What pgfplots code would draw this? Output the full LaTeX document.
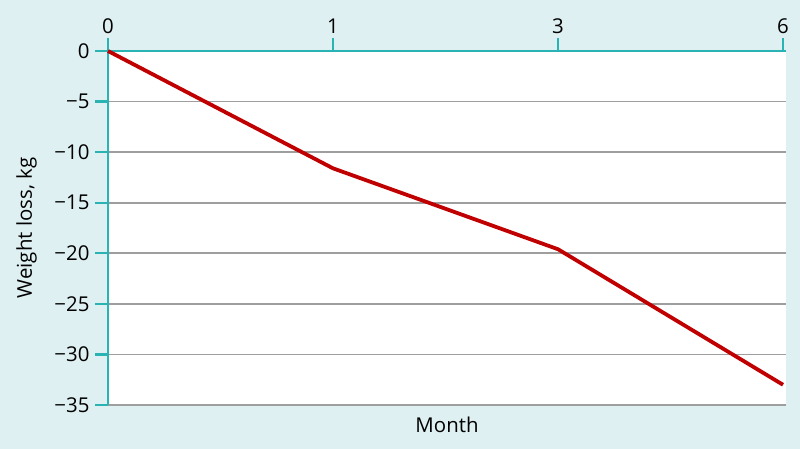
\documentclass[border=0pt]{standalone}
\usepackage{fontspec}
\setmainfont{Open Sans}
\usepackage{pgfplots}
\pgfplotsset{compat=1.18}
\definecolor{bgc}{HTML}{DFF0F3}
\definecolor{teal2}{HTML}{2AB3B3}
\definecolor{gridc}{HTML}{9E9E9E}
\definecolor{redc}{HTML}{C00000}
\begin{document}
\begin{tikzpicture}[x=1bp,y=1bp]
\fill[bgc] (-108,-44) rectangle (692,405);
\begin{axis}[
  at={(0,0)}, anchor=south west,
  scale only axis, width=678bp, height=354bp,
  xmin=0, xmax=3.0133, ymin=-35, ymax=0,
  axis x line*=top, axis y line*=left,
  axis line style={teal2, line width=2.2bp, -},
  tick align=outside,
  major tick length=13bp,
  tick style={teal2, line width=2.2bp},
  xtick={0,1,2,3}, xticklabels={0,1,3,6},
  ytick={-35,-30,...,0},
  yticklabels={−35,−30,−25,−20,−15,−10,−5,0},
  ymajorgrids, grid style={gridc, line width=1.8bp},
  axis background/.style={fill=white},
  tick label style={font=\fontsize{20.5}{24}\selectfont, black},
  label style={font=\fontsize{20.5}{24}\selectfont, black},
  ylabel={Weight loss, kg},
  xlabel={Month},
  xlabel style={at={(axis description cs:0.5,0)}, anchor=center, yshift=-20bp},
  ylabel style={at={(axis description cs:-0.1202,0.5)}, anchor=center},
  yticklabel style={xshift=-2bp},
  xticklabel style={yshift=1bp},
  clip=false,
]
\addplot[redc, line width=3.8bp] coordinates {(0,0) (1,-11.6) (2,-19.6) (3,-33.0)};
\end{axis}
\end{tikzpicture}
\end{document}
